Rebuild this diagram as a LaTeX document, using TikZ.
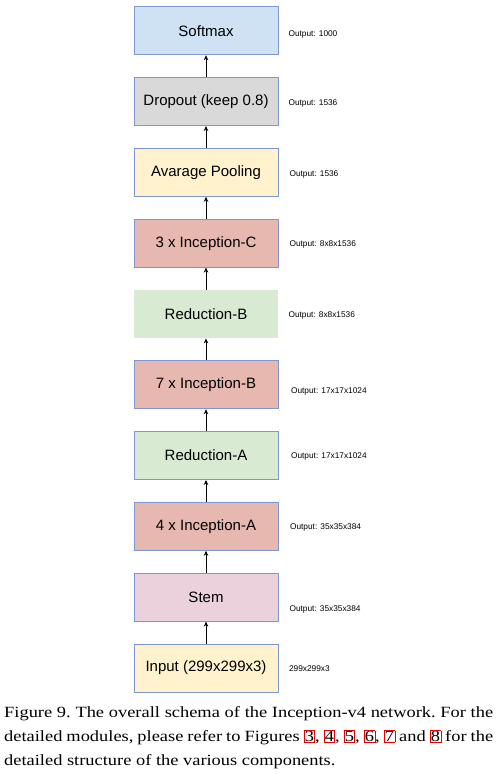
\documentclass[tikz,border=0pt]{standalone}
\usepackage{fontspec}
\setmainfont{Liberation Serif}[FakeStretch=1.18]
\setsansfont{Liberation Sans}
\usepackage{xcolor}
\usepackage{tikz}
\usetikzlibrary{arrows.meta, positioning}
\definecolor{cEdge}{RGB}{128,150,212}
\definecolor{cSoft}{RGB}{207,226,243}
\definecolor{cDrop}{RGB}{217,217,217}
\definecolor{cPool}{RGB}{255,242,204}
\definecolor{cIncep}{RGB}{230,184,175}
\definecolor{cRed}{RGB}{217,234,211}
\definecolor{cStem}{RGB}{234,209,220}
\definecolor{cLink}{RGB}{230,0,0}
\newcommand{\figlink}[1]{{\setlength{\fboxsep}{0.4pt}\setlength{\fboxrule}{0.7pt}\fcolorbox{cLink}{white}{#1}}}
\tikzset{
	layer/.style  ={rectangle, draw=cEdge, line width=0.8pt, minimum width=144pt, minimum height=48pt, align=center, font=\sffamily\fontsize{15}{18}\selectfont},
	outlbl/.style ={inner sep=0pt, anchor=west, font=\sffamily\fontsize{8.3}{10}\selectfont},
	fwd/.style    ={-{Stealth[length=5pt, width=4.5pt]}, line width=0.9pt},
}
\begin{document}
\begin{tikzpicture}[node distance=22pt]
	\useasboundingbox (0,0) rectangle (497pt,-774pt);
	\node[layer, fill=cPool] (inp) at (206pt,-668pt) {Input (299x299x3)};
	\node[layer, fill=cStem, above=of inp] (stem) {Stem};
	\node[layer, fill=cIncep, above=of stem] (inca) {4 x Inception-A};
	\node[layer, fill=cRed, above=of inca] (reda) {Reduction-A};
	\node[layer, fill=cIncep, above=of reda] (incb) {7 x Inception-B};
	\node[layer, fill=cRed, draw=none, above=of incb] (redb) {Reduction-B};
	\node[layer, fill=cIncep, above=of redb] (incc) {3 x Inception-C};
	\node[layer, fill=cPool, above=of incc] (pool) {Avarage Pooling};
	\node[layer, fill=cDrop, above=of pool] (drop) {Dropout (keep 0.8)};
	\node[layer, fill=cSoft, above=of drop] (soft) {Softmax};
	% arrows between the layers
	\draw[fwd] (inp.north) -- (stem.south);
	\draw[fwd] (stem.north) -- (inca.south);
	\draw[fwd] (inca.north) -- (reda.south);
	\draw[fwd] (reda.north) -- (incb.south);
	\draw[fwd] (incb.north) -- (redb.south);
	\draw[fwd] (redb.north) -- (incc.south);
	\draw[fwd] (incc.north) -- (pool.south);
	\draw[fwd] (pool.north) -- (drop.south);
	\draw[fwd] (drop.north) -- (soft.south);
	% output sizes
	\node[outlbl, right=10.5pt of inp, yshift=-1pt] (linp) {299x299x3};
	\node[outlbl, right=11pt of stem, yshift=-12pt] (lstem) {Output: 35x35x384};
	\node[outlbl, right=11.5pt of inca, yshift=-1pt] (linca) {Output: 35x35x384};
	\node[outlbl, right=12.5pt of reda, yshift=-1pt] (lreda) {Output: 17x17x1024};
	\node[outlbl, right=12.5pt of incb, yshift=-7pt] (lincb) {Output: 17x17x1024};
	\node[outlbl, right=10pt of redb, yshift=-1pt] (lredb) {Output: 8x8x1536};
	\node[outlbl, right=11pt of incc, yshift=-1pt] (lincc) {Output: 8x8x1536};
	\node[outlbl, right=11pt of pool, yshift=-2.5pt] (lpool) {Output: 1536};
	\node[outlbl, right=10pt of drop, yshift=-2pt] (ldrop) {Output: 1536};
	\node[outlbl, right=10pt of soft, yshift=-4pt] (lsoft) {Output: 1000};
	% caption
	\node[anchor=north west, inner sep=0pt, text width=489pt, align=justify, font=\rmfamily\fontsize{15.6}{24}\selectfont\frenchspacing] (cap) at (4pt,-706.5pt)
		{Figure 9. The overall schema of the Inception-v4 network. For the\linebreak detailed modules, please refer to Figures \figlink{3}, \figlink{4}, \figlink{5}, \figlink{6}, \figlink{7} and \figlink{8} for the\linebreak detailed structure of the various components.};
\end{tikzpicture}
\end{document}
